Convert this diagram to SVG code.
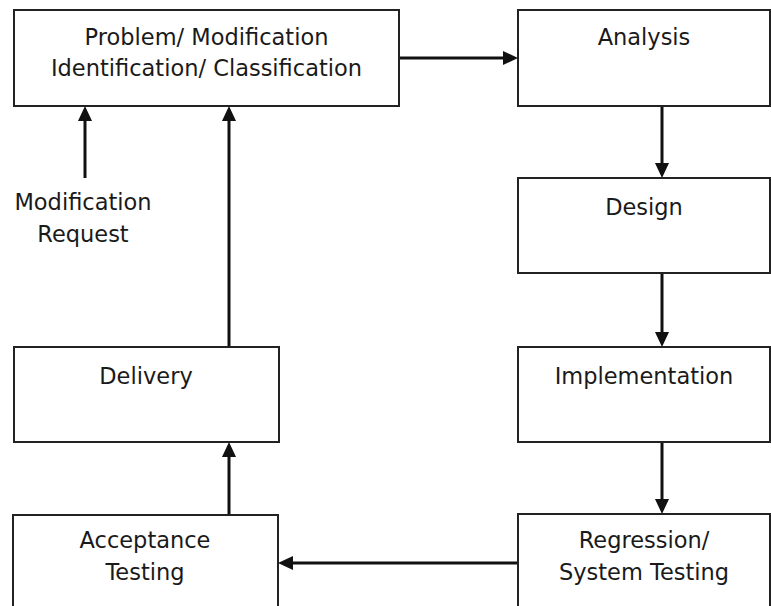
<svg xmlns="http://www.w3.org/2000/svg" width="771" height="606" viewBox="0 0 771 606">
<defs>
<style>
.box{fill:#fff;stroke:#222;stroke-width:2}
.lbl{font-family:"DejaVu Sans","Liberation Sans",sans-serif;font-size:22.5px;fill:#1a1a1a;text-anchor:middle}
.con{stroke:#111;stroke-width:3;fill:none;marker-end:url(#ah)}
</style>
<marker id="ah" markerUnits="userSpaceOnUse" markerWidth="15" markerHeight="14" refX="0" refY="7" orient="auto">
<path d="M0,0 L15,7 L0,14 z" fill="#111"/>
</marker>
</defs>
<rect width="771" height="606" fill="#fff"/>
<g id="problem">
<rect class="box" x="14" y="10" width="385" height="96"/>
<text class="lbl" x="206.5" y="45">Problem/ Modification</text>
<text class="lbl" x="206.5" y="76">Identification/ Classification</text>
</g>
<g id="analysis">
<rect class="box" x="518" y="10" width="252" height="96"/>
<text class="lbl" x="644" y="45">Analysis</text>
</g>
<g id="design">
<rect class="box" x="518" y="178" width="252" height="95"/>
<text class="lbl" x="644" y="215">Design</text>
</g>
<g id="implementation">
<rect class="box" x="518" y="347" width="252" height="95"/>
<text class="lbl" x="644" y="384">Implementation</text>
</g>
<g id="regression">
<rect class="box" x="518" y="514" width="252" height="110"/>
<text class="lbl" x="644" y="548">Regression/</text>
<text class="lbl" x="644" y="580">System Testing</text>
</g>
<g id="delivery">
<rect class="box" x="14" y="347" width="265" height="95"/>
<text class="lbl" x="146" y="384">Delivery</text>
</g>
<g id="acceptance">
<rect class="box" x="13" y="515" width="265" height="110"/>
<text class="lbl" x="145" y="548">Acceptance</text>
<text class="lbl" x="145" y="580">Testing</text>
</g>
<g id="modreq">
<text class="lbl" x="83" y="210">Modification</text>
<text class="lbl" x="83" y="242">Request</text>
</g>
<g id="connectors">
<path class="con" d="M400,58 H503"/>
<path class="con" d="M662,107 V163"/>
<path class="con" d="M662,274 V332"/>
<path class="con" d="M662,443 V499"/>
<path class="con" d="M517,563 H293"/>
<path class="con" d="M229,514 V457"/>
<path class="con" d="M229,346 V121"/>
<path class="con" d="M85,178 V121"/>
</g>
</svg>
